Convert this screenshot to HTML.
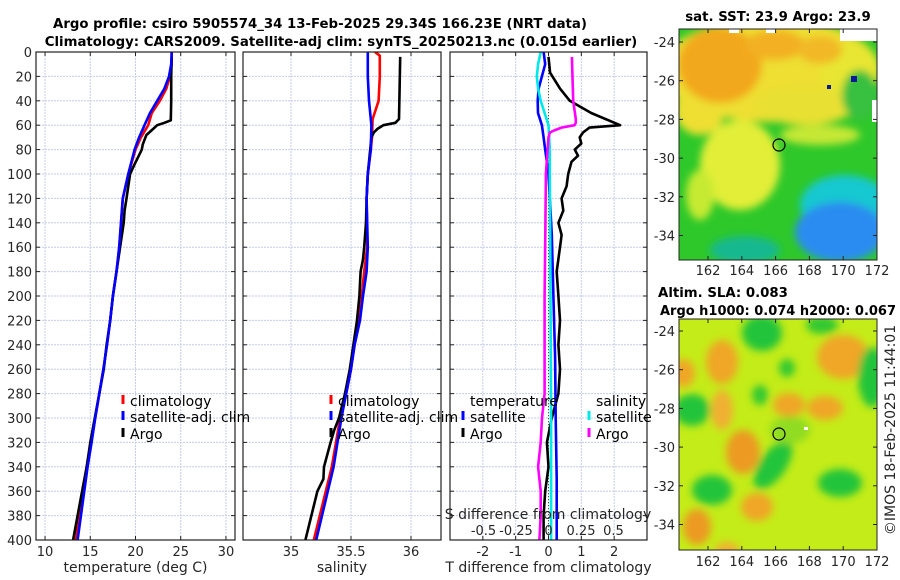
<!DOCTYPE html>
<html><head><meta charset="utf-8">
<style>
html,body{margin:0;padding:0;background:#fff;}
svg{display:block;font-family:"DejaVu Sans","Liberation Sans",sans-serif;}
.tk{font-size:13px;fill:#262626;}
.ttl{font-size:13.3px;font-weight:bold;fill:#000;}
.lg{font-size:14px;fill:#000;}
</style></head>
<body>
<svg id="fig" width="900" height="580" viewBox="0 0 900 580">
<defs>
<filter id="blur" x="-30%" y="-30%" width="160%" height="160%"><feGaussianBlur stdDeviation="4"/></filter>
<clipPath id="c1"><rect x="36" y="52" width="199" height="488"/></clipPath>
<clipPath id="c2"><rect x="243" y="52" width="198" height="488"/></clipPath>
<clipPath id="c3"><rect x="450" y="52" width="197" height="488"/></clipPath>
<clipPath id="m1"><rect x="679" y="29" width="198" height="231"/></clipPath>
<clipPath id="m2"><rect x="679" y="319" width="198" height="231"/></clipPath>
</defs>
<text class="ttl" x="320" y="28" text-anchor="middle">Argo profile: csiro 5905574_34 13-Feb-2025 29.34S 166.23E (NRT data)</text>
<text class="ttl" x="341" y="46" text-anchor="middle">Climatology: CARS2009. Satellite-adj clim: synTS_20250213.nc (0.015d earlier)</text>
<g id="grids"></g>
<g id="series"></g>
<g id="axes"></g>

<!-- SST map -->
<g clip-path="url(#m1)">
<rect x="679" y="29" width="198" height="231" fill="#2ec82a"/>
<g filter="url(#blur)">
<ellipse cx="770" cy="70" rx="110" ry="52" fill="#eedf30"/>
<ellipse cx="850" cy="70" rx="30" ry="28" fill="#e8e630"/>
<ellipse cx="700" cy="110" rx="25" ry="25" fill="#eedf30"/>
<ellipse cx="740" cy="165" rx="40" ry="45" fill="#e2ee38"/>
<ellipse cx="700" cy="195" rx="14" ry="25" fill="#c6ea30"/>
<ellipse cx="720" cy="65" rx="42" ry="38" fill="#f2a81a"/>
<ellipse cx="775" cy="45" rx="30" ry="15" fill="#f2b020"/>
<ellipse cx="820" cy="50" rx="22" ry="14" fill="#f2b828"/>
<ellipse cx="805" cy="105" rx="50" ry="20" fill="#e8e030"/>
<ellipse cx="820" cy="135" rx="40" ry="10" fill="#c6e836"/>
<ellipse cx="845" cy="205" rx="45" ry="30" fill="#18c8d0"/>
<ellipse cx="840" cy="232" rx="45" ry="30" fill="#2a8cf0"/>
<ellipse cx="745" cy="250" rx="35" ry="14" fill="#18b890"/>
<ellipse cx="860" cy="95" rx="18" ry="25" fill="#38c040"/>
</g>
<rect x="729" y="29" width="10" height="4" fill="#fff"/>
<rect x="766" y="29" width="10" height="4" fill="#fff"/>
<rect x="840" y="29" width="37" height="12" fill="#fff"/>
<rect x="872" y="100" width="5" height="22" fill="#fff"/>
<rect x="851" y="76" width="6" height="6" fill="#0a1a9a"/>
<rect x="827" y="85" width="4" height="4" fill="#0a1a9a"/>
<circle cx="779" cy="145" r="6" fill="none" stroke="#000" stroke-width="1.2"/>
</g>
<rect x="679" y="29" width="198" height="231" fill="none" stroke="#222" stroke-width="1"/>
<text class="ttl" x="778" y="21" text-anchor="middle">sat. SST: 23.9 Argo: 23.9</text>

<!-- SLA map -->
<g clip-path="url(#m2)">
<rect x="679" y="319" width="198" height="231" fill="#c4ec18"/>
<g filter="url(#blur)">
<ellipse cx="722" cy="362" rx="16" ry="22" fill="#f0a628"/>
<ellipse cx="843" cy="357" rx="26" ry="22" fill="#f0a628"/>
<ellipse cx="683" cy="373" rx="12" ry="14" fill="#f0a628"/>
<ellipse cx="789" cy="405" rx="16" ry="12" fill="#f0a628"/>
<ellipse cx="825" cy="408" rx="18" ry="12" fill="#f0a628"/>
<ellipse cx="743" cy="452" rx="17" ry="22" fill="#ec9a20"/>
<ellipse cx="722" cy="410" rx="11" ry="20" fill="#f0b030"/>
<ellipse cx="757" cy="507" rx="16" ry="14" fill="#f0a628"/>
<ellipse cx="697" cy="527" rx="14" ry="18" fill="#ec9a20"/>
<ellipse cx="727" cy="550" rx="12" ry="8" fill="#f0b030"/>
<ellipse cx="762" cy="333" rx="20" ry="18" fill="#22c43a"/>
<ellipse cx="692" cy="410" rx="18" ry="16" fill="#22c43a"/>
<ellipse cx="872" cy="377" rx="14" ry="30" fill="#22c43a"/>
<ellipse cx="760" cy="395" rx="8" ry="10" fill="#30c830"/>
<ellipse cx="773" cy="465" rx="13" ry="28" fill="#22c43a" transform="rotate(35 773 465)"/>
<ellipse cx="712" cy="490" rx="20" ry="15" fill="#22c43a"/>
<ellipse cx="840" cy="483" rx="22" ry="14" fill="#22c43a"/>
<ellipse cx="787" cy="368" rx="8" ry="9" fill="#30c830"/>
<ellipse cx="822" cy="325" rx="16" ry="9" fill="#30c830"/>
<ellipse cx="790" cy="430" rx="20" ry="14" fill="#90dc20"/>
</g>
<rect x="804" y="427" width="4" height="3" fill="#fff"/>
<circle cx="779" cy="434" r="6" fill="none" stroke="#000" stroke-width="1.2"/>
</g>
<rect x="679" y="319" width="198" height="231" fill="none" stroke="#222" stroke-width="1"/>
<text class="ttl" x="723" y="297" text-anchor="middle">Altim. SLA: 0.083</text>
<text class="ttl" x="778" y="315" text-anchor="middle" textLength="236" lengthAdjust="spacingAndGlyphs">Argo h1000: 0.074 h2000: 0.067</text>
<text class="tk" transform="translate(895,430) rotate(-90)" text-anchor="middle" style="font-size:14px">©IMOS 18-Feb-2025 11:44:01</text>
<g id="mapaxes"></g>
</svg>
<script>
// ---------- data ----------
const depthTicks = [0,20,40,60,80,100,120,140,160,180,200,220,240,260,280,300,320,340,360,380,400];
const tempTicks = [10,15,20,25,30];
const salTicks = [35,35.5,36];
const salTickLabels = ["35","35.5","36"];
const tdiffTicks = [-2,-1,0,1,2];
const sdiffTicks = [-0.5,-0.25,0,0.25,0.5];
const sdiffTickLabels = ["-0.5","-0.25","0","0.25","0.5"];

const tClimDepth = [0,10,20,30,40,50,60,70,80,100,120,140,160,180,200,220,240,260,280,300,320,340,400];
const tClimVal   = [24.0,24.0,23.8,23.4,22.7,21.8,21.4,20.6,20.0,19.2,18.6,18.4,18.2,17.9,17.5,17.2,16.85,16.45,16.0,15.55,15.1,14.6,13.4];
const tSatDepth  = [0,10,20,30,40,50,60,70,80,100,120,140,160,180,200,220,240,260,280,300,320,340,400];
const tSatVal    = [24.0,23.95,23.7,23.2,22.4,21.6,21.0,20.4,19.9,19.2,18.6,18.4,18.2,17.9,17.5,17.2,16.85,16.45,16.0,15.55,15.15,14.7,13.6];
const tArgoDepth = [4,20,40,56,58,60,64,68,72,76,80,86,92,100,110,120,130,140,150,160,180,200,220,240,260,280,300,320,340,360,380,400];
const tArgoVal   = [24.0,23.95,23.95,23.9,23.2,22.4,21.8,21.2,21.0,20.8,20.7,20.3,19.9,19.4,19.2,19.0,18.8,18.7,18.5,18.3,17.9,17.5,17.2,16.8,16.5,16.0,15.5,15.0,14.6,14.1,13.6,13.1];

const sClimDepth = [0,3,20,40,55,70,80,100,120,160,180,200,220,240,260,280,300,340,400];
const sClimVal   = [35.70,35.74,35.74,35.73,35.68,35.675,35.665,35.64,35.63,35.635,35.61,35.59,35.57,35.53,35.5,35.46,35.41,35.34,35.19];
const sSatDepth  = [0,20,40,60,80,100,120,160,180,200,220,240,260,280,300,340,400];
const sSatVal    = [35.64,35.64,35.65,35.67,35.665,35.64,35.63,35.64,35.63,35.60,35.575,35.53,35.5,35.46,35.42,35.355,35.21];
const sArgoDepth = [4,30,55,58,60,63,66,70,80,100,120,140,160,170,180,200,220,240,260,280,300,310,320,340,350,360,380,400];
const sArgoVal   = [35.91,35.905,35.90,35.87,35.77,35.72,35.69,35.67,35.66,35.64,35.63,35.625,35.61,35.60,35.58,35.57,35.55,35.52,35.49,35.45,35.40,35.36,35.33,35.275,35.27,35.22,35.17,35.12];

const dTSatDepth = [0,10,20,30,40,50,60,70,80,100,150,200,250,300,350,400];
const dTSatVal   = [-0.15,-0.1,-0.2,-0.3,-0.33,-0.32,-0.2,-0.15,-0.1,0.0,0.1,0.15,0.2,0.22,0.25,0.25];
const dTArgoDepth= [4,17,30,40,50,60,62,66,70,75,80,85,90,100,110,120,130,140,150,160,180,200,220,240,260,280,300,320,340,360,380,400];
const dTArgoVal  = [0.0,0.05,0.35,0.65,1.3,2.18,1.25,1.05,0.95,1.0,0.8,0.9,0.7,0.6,0.55,0.4,0.45,0.3,0.4,0.35,0.25,0.3,0.35,0.3,0.35,0.3,0.1,-0.05,0.0,-0.1,-0.15,-0.15];
const dSSatDepth = [0,10,20,30,40,50,60,80,100,200,300,400];
const dSSatVal   = [-0.06,-0.08,-0.09,-0.08,-0.06,-0.03,0.0,0.01,0.01,0.015,0.02,0.02];
const dSArgoDepth= [4,40,55,58,60,62,64,66,70,100,150,200,250,280,300,320,340,360,380,400];
const dSArgoVal  = [0.18,0.19,0.21,0.21,0.20,0.10,0.05,0.01,0.0,-0.02,-0.025,-0.03,-0.03,-0.03,-0.05,-0.06,-0.08,-0.06,-0.06,-0.07];

const mapLatTicks = [-24,-26,-28,-30,-32,-34];
const mapLonTicks = [162,164,166,168,170,172];

// ---------- scales ----------
const Y0=52, Y1=540;
const yD = d => Y0 + d/400*(Y1-Y0);
const xT = t => 36 + (t-9.0)/(31.0-9.0)*199;
const xS = s => 243 + (s-34.6)/(36.25-34.6)*198;
const xDT = v => 450 + (v+3.0)/6.0*197;
const xDS = v => 548.5 + v*130;
const mx = lon => 708 + (lon-162)*16.9;
const myTop = lat => 42 + (-24-lat)*19.35;
const myBot = lat => 331 + (-24-lat)*19.35;

const NS="http://www.w3.org/2000/svg";
function mk(tag, attrs, parent){const e=document.createElementNS(NS,tag);for(const k in attrs)e.setAttribute(k,attrs[k]);parent.appendChild(e);return e;}
const grids=document.getElementById('grids'), series=document.getElementById('series'), axes=document.getElementById('axes'), mapaxes=document.getElementById('mapaxes');

const panels=[
 {x0:36,w:199,xs:xT,ticks:tempTicks,labels:tempTicks.map(String),label:"temperature (deg C)",name:"temperature-panel",ylabels:true},
 {x0:243,w:198,xs:xS,ticks:salTicks,labels:salTickLabels,label:"salinity",name:"salinity-panel",ylabels:false},
 {x0:450,w:197,xs:xDT,ticks:tdiffTicks,labels:tdiffTicks.map(String),label:"T difference from climatology",name:"difference-panel",ylabels:false}
];
panels.forEach(p=>{
  const gg=mk('g',{},grids);
  
  
  depthTicks.forEach(d=>{ if(d>0&&d<400) mk('line',{x1:p.x0,x2:p.x0+p.w,y1:yD(d),y2:yD(d),stroke:'#c5cbe8','stroke-width':1,'stroke-dasharray':'2,1'},gg); });
  p.ticks.forEach(t=>{ mk('line',{x1:p.xs(t),x2:p.xs(t),y1:Y0,y2:Y1,stroke:'#c5cbe8','stroke-width':1,'stroke-dasharray':'2,1'},gg); });
  const ga=mk('g',{},axes);
  
  
  mk('rect',{x:p.x0,y:Y0,width:p.w,height:Y1-Y0,fill:'none',stroke:'#222','stroke-width':1.2},ga);
  depthTicks.forEach(d=>{
    mk('line',{x1:p.x0,x2:p.x0+4,y1:yD(d),y2:yD(d),stroke:'#222'},ga);
    mk('line',{x1:p.x0+p.w-4,x2:p.x0+p.w,y1:yD(d),y2:yD(d),stroke:'#222'},ga);
    if(p.ylabels){const t=mk('text',{x:p.x0-4,y:yD(d)+5,'text-anchor':'end','class':'tk'},ga);t.textContent=d;
      
      }
  });
  p.ticks.forEach((t,i)=>{
    mk('line',{x1:p.xs(t),x2:p.xs(t),y1:Y1,y2:Y1-4,stroke:'#222'},ga);
    mk('line',{x1:p.xs(t),x2:p.xs(t),y1:Y0,y2:Y0+4,stroke:'#222'},ga);
    const tx=mk('text',{x:p.xs(t),y:556,'text-anchor':'middle','class':'tk'},ga);tx.textContent=p.labels[i];
    
    
  });
  const xl=mk('text',{x:p.x0+p.w/2,y:572,'text-anchor':'middle','class':'tk',style:'font-size:14px'},ga);xl.textContent=p.label;
  
  
});

function line(depths, vals, xs, color, clip, name, w){
  const pts=depths.map((d,i)=>xs(vals[i]).toFixed(1)+','+yD(d).toFixed(1)).join(' ');
  const pl=mk('polyline',{points:pts,fill:'none',stroke:color,'stroke-width':w||2.6,'stroke-linejoin':'round','clip-path':'url(#'+clip+')'},series);
  
  
}
line(tClimDepth,tClimVal,xT,'#ff0000','c1','temp-climatology-line');
line(tArgoDepth,tArgoVal,xT,'#000000','c1','temp-argo-line');
line(tSatDepth,tSatVal,xT,'#0000ff','c1','temp-satellite-line');
line(sClimDepth,sClimVal,xS,'#ff0000','c2','sal-climatology-line');
line(sArgoDepth,sArgoVal,xS,'#000000','c2','sal-argo-line');
line(sSatDepth,sSatVal,xS,'#0000ff','c2','sal-satellite-line');
const zl=mk('line',{x1:xDT(0),x2:xDT(0),y1:Y0,y2:Y1,stroke:'#555522','stroke-width':1,'stroke-dasharray':'1,2'},series);


line(dTArgoDepth,dTArgoVal,xDT,'#000000','c3','tdiff-argo-line');
line(dTSatDepth,dTSatVal,xDT,'#0000ff','c3','tdiff-satellite-line');
line(dSSatDepth,dSSatVal,xDS,'#00e8e8','c3','sdiff-satellite-line');
line(dSArgoDepth,dSArgoVal,xDS,'#ff00ff','c3','sdiff-argo-line');

const sdt=mk('text',{x:548,y:519,'text-anchor':'middle','class':'tk',style:'font-size:14px'},axes);sdt.textContent='S difference from climatology';


sdiffTicks.forEach((v,i)=>{const t=mk('text',{x:xDS(v),y:535,'text-anchor':'middle','class':'tk'},axes);t.textContent=sdiffTickLabels[i];
  
  });

function legItem(x,y,color,label,name){
  const g=mk('g',{},axes);
  
  
  if(color) mk('line',{x1:x,x2:x,y1:y-11,y2:y-2,stroke:color,'stroke-width':3},g);
  const t=mk('text',{x:x+7,y:y,'class':'lg'},g);t.textContent=label;
}
legItem(123,406,'#ff0000','climatology','temp-legend-climatology');
legItem(123,422,'#0000ff','satellite-adj. clim','temp-legend-satellite');
legItem(123,439,'#000000','Argo','temp-legend-argo');
legItem(331,406,'#ff0000','climatology','sal-legend-climatology');
legItem(331,422,'#0000ff','satellite-adj. clim','sal-legend-satellite');
legItem(331,439,'#000000','Argo','sal-legend-argo');
legItem(463,406,null,'temperature','diff-legend-temperature-header');
legItem(463,422,'#0000ff','satellite','diff-legend-temp-satellite');
legItem(463,439,'#000000','Argo','diff-legend-temp-argo');
legItem(589,406,null,'salinity','diff-legend-salinity-header');
legItem(589,422,'#00e8e8','satellite','diff-legend-sal-satellite');
legItem(589,439,'#ff00ff','Argo','diff-legend-sal-argo');

[[myTop,29,260,275],[myBot,319,550,566]].forEach((m,mi)=>{
  const f=m[0];
  mapLatTicks.forEach(lat=>{
    mk('line',{x1:679,x2:683,y1:f(lat),y2:f(lat),stroke:'#222'},mapaxes);
    mk('line',{x1:873,x2:877,y1:f(lat),y2:f(lat),stroke:'#222'},mapaxes);
    const t=mk('text',{x:675,y:f(lat)+5,'text-anchor':'end','class':'tk'},mapaxes);t.textContent=lat;
    
    
  });
  mapLonTicks.forEach(lon=>{
    mk('line',{x1:mx(lon),x2:mx(lon),y1:m[2],y2:m[2]-4,stroke:'#222'},mapaxes);
    mk('line',{x1:mx(lon),x2:mx(lon),y1:m[1],y2:m[1]+4,stroke:'#222'},mapaxes);
    const t=mk('text',{x:mx(lon),y:m[3],'text-anchor':'middle','class':'tk'},mapaxes);t.textContent=lon;
    
    
  });
});
</script>
</body></html>
